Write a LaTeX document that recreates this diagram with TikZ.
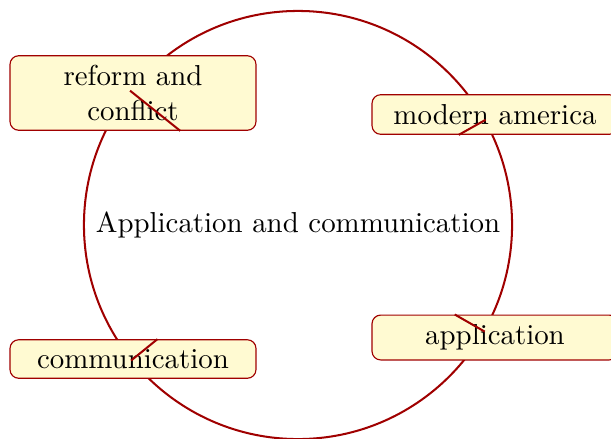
\documentclass[tikz,border=0pt]{standalone}
\definecolor{dred}{RGB}{160,0,0}
\definecolor{cream}{RGB}{255,250,210}
\begin{document}
\begin{tikzpicture}[x=0.3464pt,y=-0.3464pt,
  hub/.style={circle,draw=dred,line width=0.7pt,minimum size=148.3pt,inner sep=0pt},
  leaf/.style={rectangle,rounded corners=3pt,draw=dred,line width=0.4pt,fill=cream,
    minimum width=85.2pt,text width=78pt,align=center,inner sep=3.33pt},
  edge/.style={draw=dred,line width=0.7pt}]
\useasboundingbox (0,0) rectangle (611,438);
\node[hub] (c) at (298,225) {Application and communication};
\node[leaf] (r) at (133,93) {reform and\\conflict};
\node[leaf] (m) at (495,114.5) {modern america};
\node[leaf] (a) at (495,337.5) {application};
\node[leaf] (k) at (133,359) {communication};
\draw[edge] (c) -- (r);
\draw[edge] (c) -- (m);
\draw[edge] (c) -- (a);
\draw[edge] (c) -- (k);
\end{tikzpicture}
\end{document}
